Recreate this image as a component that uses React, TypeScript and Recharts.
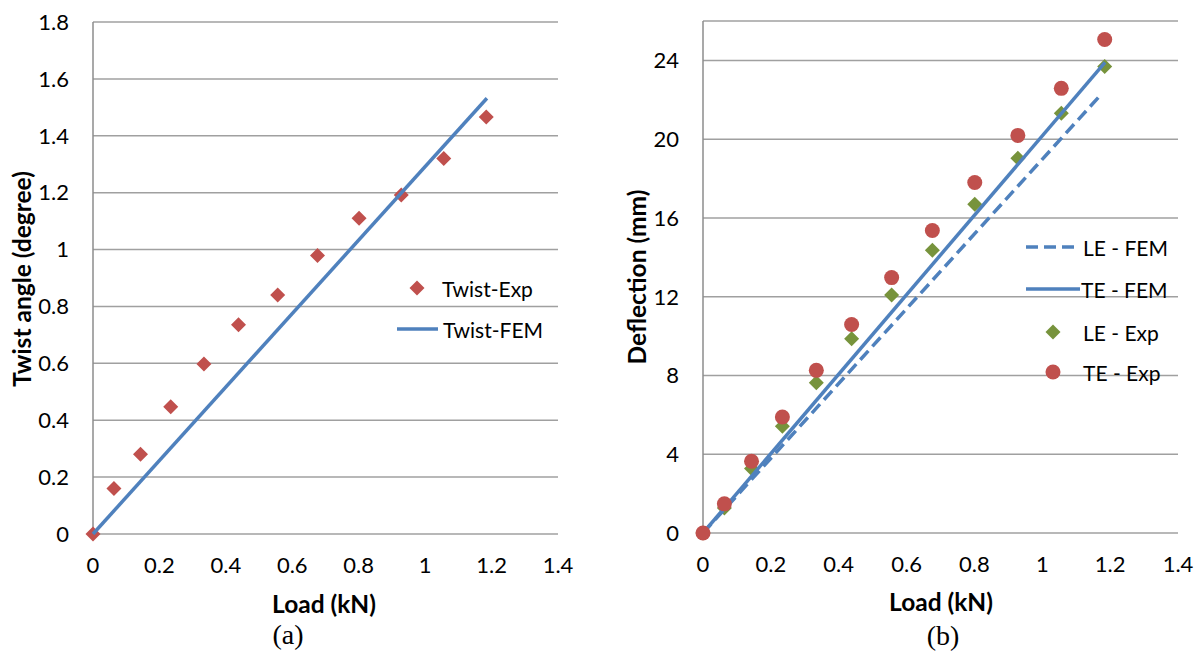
import React from 'react';
import { ScatterChart, Scatter, XAxis, YAxis, CartesianGrid, Legend, Label } from 'recharts';

// load steps (kN), shared by the experimental series
const LOAD = [0, 0.063, 0.143, 0.234, 0.334, 0.438, 0.556, 0.676, 0.801, 0.928, 1.056, 1.184];

// (a) twist angle (degree)
const TWIST_EXP = [0, 0.16, 0.28, 0.447, 0.598, 0.736, 0.84, 0.979, 1.11, 1.192, 1.32, 1.466];
const TWIST_FEM_LOAD = [0, 1.186];
const TWIST_FEM = [0, 1.532];

// (b) deflection (mm)
const LE_EXP = [0, 1.27, 3.28, 5.42, 7.63, 9.87, 12.08, 14.36, 16.69, 19.03, 21.31, 23.69];
const TE_EXP = [0, 1.48, 3.64, 5.89, 8.26, 10.59, 12.97, 15.36, 17.8, 20.19, 22.58, 25.06];
const LE_FEM_LOAD = [0, 1.175];
const LE_FEM = [0, 22.3];
const TE_FEM_LOAD = [0, 1.185];
const TE_FEM = [0, 23.9];

const X_TICKS = [0, 0.2, 0.4, 0.6, 0.8, 1, 1.2, 1.4];
const TWIST_TICKS = [0, 0.2, 0.4, 0.6, 0.8, 1, 1.2, 1.4, 1.6, 1.8];
const DEFL_TICKS = [0, 4, 8, 12, 16, 20, 24];

const RED = '#C0504D';
const GREEN = '#77933C';
const BLUE = '#4F81BD';
const GRID = '#A0A0A0';
const FONT = 'Lato, "Noto Sans", sans-serif';

const pts = (xs: number[], ys: number[]) => xs.map((x, i) => ({ x, y: ys[i] }));

const diamond = (color: string, r = 7.5) => (props: any) => {
  const { cx, cy } = props;
  return <polygon points={`${cx},${cy - r} ${cx + r},${cy} ${cx},${cy + r} ${cx - r},${cy}`} fill={color} />;
};
const circle = (color: string, r = 7.5) => (props: any) => <circle cx={props.cx} cy={props.cy} r={r} fill={color} />;
const noDot = () => <g />;

const tickStyle = { fontFamily: FONT, fontSize: 22, fill: '#000' };

const title = (text: string, x: number, y: number, rotate = false) => () => (
  <text
    x={x}
    y={y}
    transform={rotate ? `rotate(-90 ${x} ${y})` : undefined}
    textAnchor="middle"
    dominantBaseline="central"
    fontFamily={FONT}
    fontWeight="bold"
    fontSize={24.5}
    fill="#000"
  >
    {text}
  </text>
);

const legendText = (x: number, y: number, text: string) => (
  <text x={x} y={y} dominantBaseline="central" fontFamily={FONT} fontSize={21} fill="#000">
    {text}
  </text>
);

const TwistLegend = () => (
  <svg width={190} height={80}>
    {diamond(RED)({ cx: 27, cy: 18 })}
    {legendText(52, 18, 'Twist-Exp')}
    <line x1={7} y1={59} x2={48} y2={59} stroke={BLUE} strokeWidth={3.5} />
    {legendText(53, 59, 'Twist-FEM')}
  </svg>
);

const DeflLegend = () => (
  <svg width={180} height={160}>
    <line x1={11} y1={17} x2={60} y2={17} stroke={BLUE} strokeWidth={3.5} strokeDasharray="12 6" />
    {legendText(68, 17, 'LE - FEM')}
    <line x1={11} y1={59} x2={65} y2={59} stroke={BLUE} strokeWidth={3.5} />
    {legendText(66, 59, 'TE - FEM')}
    {diamond(GREEN)({ cx: 38, cy: 102 })}
    {legendText(68, 102, 'LE - Exp')}
    {circle(RED)({ cx: 38, cy: 142 })}
    {legendText(68, 142, 'TE - Exp')}
  </svg>
);

// caption placed by its baseline
const caption = (text: string, cx: number, baseline: number) => (
  <svg style={{ position: 'absolute', left: cx - 40, top: baseline - 30, overflow: 'visible' }} width={80} height={40}>
    <text x={40} y={30} textAnchor="middle" fontFamily='"Liberation Serif", serif' fontSize={28} fill="#000">
      {text}
    </text>
  </svg>
);

export default function App() {
  return (
    <div style={{ position: 'absolute', left: 0, top: 0, width: 1201, height: 654, background: '#fff', overflow: 'hidden' }}>
      <div style={{ position: 'absolute', left: 0, top: 0 }}>
        <ScatterChart width={600} height={654} margin={{ top: 22, right: 42, bottom: 40, left: 0 }}>
          <CartesianGrid vertical={false} stroke={GRID} strokeWidth={1.5} />
          <XAxis
            type="number"
            dataKey="x"
            domain={[0, 1.4]}
            ticks={X_TICKS}
            height={80}
            axisLine={false}
            tickLine={false}
            tickSize={6}
            tickMargin={17}
            tick={tickStyle}
            interval={0}
          >
            <Label content={title('Load (kN)', 324, 603)} />
          </XAxis>
          <YAxis
            type="number"
            dataKey="y"
            domain={[0, 1.8]}
            ticks={TWIST_TICKS}
            width={93}
            axisLine={{ stroke: '#8C8C8C', strokeWidth: 1.5 }}
            tickLine={false}
            tickSize={6}
            tickMargin={18}
            tick={tickStyle}
            interval={0}
          >
            <Label content={title('Twist angle (degree)', 21, 279, true)} />
          </YAxis>
          <Legend
            verticalAlign="middle"
            align="center"
            content={<TwistLegend />}
            wrapperStyle={{ left: 390, top: 270, width: 190 }}
          />
          <Scatter name="Twist-Exp" data={pts(LOAD, TWIST_EXP)} shape={diamond(RED)} isAnimationActive={false} />
          <Scatter
            name="Twist-FEM"
            data={pts(TWIST_FEM_LOAD, TWIST_FEM)}
            line={{ stroke: BLUE, strokeWidth: 3.5 }}
            shape={noDot}
            isAnimationActive={false}
          />
        </ScatterChart>
      </div>
      <div style={{ position: 'absolute', left: 600, top: 0 }}>
        <ScatterChart width={601} height={654} margin={{ top: 21, right: 23, bottom: 41, left: 0 }}>
          <CartesianGrid vertical={false} stroke={GRID} strokeWidth={1.5} />
          <XAxis
            type="number"
            dataKey="x"
            domain={[0, 1.4]}
            ticks={X_TICKS}
            height={80}
            axisLine={false}
            tickLine={false}
            tickSize={6}
            tickMargin={17}
            tick={tickStyle}
            interval={0}
          >
            <Label content={title('Load (kN)', 341, 601)} />
          </XAxis>
          <YAxis
            type="number"
            dataKey="y"
            domain={[0, 26]}
            ticks={DEFL_TICKS}
            width={103}
            axisLine={{ stroke: '#8C8C8C', strokeWidth: 1.5 }}
            tickLine={false}
            tickSize={6}
            tickMargin={18}
            tick={tickStyle}
            interval={0}
          >
            <Label content={title('Deflection (mm)', 36, 277, true)} />
          </YAxis>
          <Legend
            verticalAlign="middle"
            align="center"
            content={<DeflLegend />}
            wrapperStyle={{ left: 415, top: 230, width: 180 }}
          />
          <Scatter name="LE - Exp" data={pts(LOAD, LE_EXP)} shape={diamond(GREEN)} isAnimationActive={false} />
          <Scatter
            name="LE - FEM"
            data={pts(LE_FEM_LOAD, LE_FEM)}
            line={{ stroke: BLUE, strokeWidth: 3.5, strokeDasharray: '12 6' }}
            shape={noDot}
            isAnimationActive={false}
          />
          <Scatter
            name="TE - FEM"
            data={pts(TE_FEM_LOAD, TE_FEM)}
            line={{ stroke: BLUE, strokeWidth: 3.5 }}
            shape={noDot}
            isAnimationActive={false}
          />
          <Scatter name="TE - Exp" data={pts(LOAD, TE_EXP)} shape={circle(RED)} isAnimationActive={false} />
        </ScatterChart>
      </div>
      {caption('(a)', 288, 644)}
      {caption('(b)', 943, 645)}
    </div>
  );
}
